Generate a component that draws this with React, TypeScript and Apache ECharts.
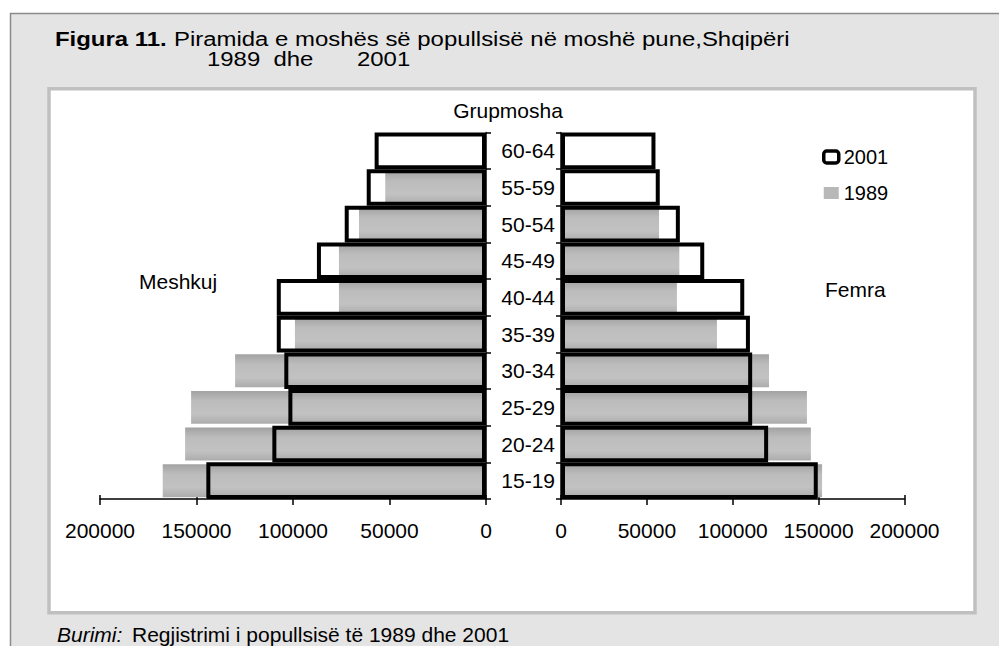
import React, { useEffect, useRef } from "react";
import * as echarts from "echarts";

// ---- data ----
const ageGroups = ["15-19", "20-24", "25-29", "30-34", "35-39", "40-44", "45-49", "50-54", "55-59", "60-64"];
const male2001 = [144900, 110700, 102400, 104500, 108400, 108400, 87600, 73200, 61800, 57700];
const male1989 = [167500, 155900, 152800, 130000, 99000, 76200, 76200, 65800, 52200, null];
const female2001 = [149500, 120600, 111300, 111300, 110000, 106700, 83400, 69200, 57500, 55000];
const female1989 = [152000, 145500, 143200, 121100, 90800, 67500, 68900, 57100, null, null];
const xTickValues = [0, 50000, 100000, 150000, 200000];
const seriesNames = ["2001", "1989"];

const FONT = "'Liberation Sans', Arial, Helvetica, sans-serif";

export default function App() {
  const ref = useRef<HTMLDivElement>(null);

  useEffect(() => {
    if (!ref.current) return;
    const chart = echarts.init(ref.current, null, { renderer: "svg" });

    const xMin = xTickValues[0];
    const xMax = xTickValues[xTickValues.length - 1];
    const xInt = xTickValues[1] - xTickValues[0];

    const grey = new echarts.graphic.LinearGradient(0, 0, 0, 1, [
      { offset: 0, color: "#a2a2a2" },
      { offset: 0.3, color: "#bcbcbc" },
      { offset: 0.7, color: "#c2c2c2" },
      { offset: 1, color: "#acacac" },
    ]);

    const mainX = (grid: number, inverse: boolean) => ({
      type: "value",
      gridIndex: grid,
      inverse,
      min: xMin,
      max: xMax,
      interval: xInt,
      position: "bottom",
      splitLine: { show: false },
      axisLine: { show: true, lineStyle: { color: "#000", width: 1.5 } },
      axisTick: { show: true, inside: false, length: 6, lineStyle: { color: "#000", width: 1.5 } },
      axisLabel: {
        show: true,
        margin: 21,
        color: "#000",
        fontSize: 21,
        fontFamily: FONT,
        formatter: (v: number) => String(v),
      },
    });
    const innerTickX = (grid: number, inverse: boolean) => ({
      type: "value",
      gridIndex: grid,
      inverse,
      min: xMin,
      max: xMax,
      interval: xInt,
      position: "bottom",
      offset: 0,
      splitLine: { show: false },
      axisLine: { show: false },
      axisTick: { show: true, inside: true, length: 4, lineStyle: { color: "#000", width: 1.5 } },
      axisLabel: { show: false },
    });

    const visibleY = (grid: number, position: string, showLabels: boolean) => ({
      type: "category",
      gridIndex: grid,
      data: ageGroups,
      position,
      axisLine: { show: true, lineStyle: { color: "#000", width: 1.5 } },
      axisTick: { show: true, inside: false, length: 5, lineStyle: { color: "#000", width: 1.5 } },
      axisLabel: {
        show: showLabels,
        margin: 6,
        color: "#000",
        fontSize: 21,
        fontFamily: FONT,
      },
      splitLine: { show: false },
    });
    const hiddenY = (grid: number) => ({
      type: "category",
      gridIndex: grid,
      data: ageGroups,
      show: false,
    });

    const fill2001 = (name: string, data: (number | null)[], xi: number, yi: number) => ({
      name,
      type: "bar",
      xAxisIndex: xi,
      yAxisIndex: yi,
      data,
      barCategoryGap: "0%",
      barGap: "-100%",
      z: 2,
      itemStyle: { color: "#ffffff", borderWidth: 0 },
      emphasis: { disabled: true },
    });
    const outline2001 = (name: string, data: (number | null)[], xi: number, yi: number) => ({
      name,
      type: "bar",
      xAxisIndex: xi,
      yAxisIndex: yi,
      data,
      barCategoryGap: "0%",
      barGap: "-100%",
      z: 4,
      itemStyle: { color: "rgba(0,0,0,0)", borderColor: "#000", borderWidth: 4 },
      emphasis: { disabled: true },
    });
    const bars1989 = (name: string, data: (number | null)[], xi: number, yi: number) => ({
      name,
      type: "bar",
      xAxisIndex: xi,
      yAxisIndex: yi,
      data,
      barCategoryGap: "10%",
      z: 3,
      itemStyle: { color: grey },
      emphasis: { disabled: true },
    });

    const option: any = {
      animation: false,
      backgroundColor: "#ffffff",
      textStyle: { fontFamily: FONT, color: "#000" },
      graphic: [
        {
          type: "rect",
          z: -10,
          silent: true,
          shape: { x: 10.5, y: 13.5, width: 1000, height: 700 },
          style: { fill: "#e4e4e4", stroke: "#8a8a8a", lineWidth: 1.5 },
        },
        {
          type: "rect",
          z: -9,
          silent: true,
          shape: { x: 49, y: 88.8, width: 926, height: 524 },
          style: { fill: "#ffffff", stroke: "#c0c0c0", lineWidth: 3.5 },
        },
        {
          type: "text",
          x: 55,
          y: 39.5,
          scaleX: 1.14,
          style: {
            text: "Figura 11.",
            fill: "#000",
            font: `bold 21px ${FONT}`,
            textAlign: "left",
            textVerticalAlign: "middle",
          },
        },
        {
          type: "text",
          x: 174,
          y: 39.5,
          scaleX: 1.14,
          style: {
            text: "Piramida e moshës së popullsisë në moshë pune,Shqipëri",
            fill: "#000",
            font: `21px ${FONT}`,
            textAlign: "left",
            textVerticalAlign: "middle",
          },
        },
        {
          type: "text",
          x: 207,
          y: 59.5,
          scaleX: 1.14,
          style: {
            text: "1989  dhe",
            fill: "#000",
            font: `21px ${FONT}`,
            textAlign: "left",
            textVerticalAlign: "middle",
          },
        },
        {
          type: "text",
          x: 357,
          y: 59.5,
          scaleX: 1.14,
          style: {
            text: "2001",
            fill: "#000",
            font: `21px ${FONT}`,
            textAlign: "left",
            textVerticalAlign: "middle",
          },
        },
        {
          type: "text",
          x: 508,
          y: 110,
          style: {
            text: "Grupmosha",
            fill: "#000",
            font: `21px ${FONT}`,
            textAlign: "center",
            textVerticalAlign: "middle",
          },
        },
        {
          type: "text",
          x: 139,
          y: 281.5,
          style: {
            text: "Meshkuj",
            fill: "#000",
            font: `21px ${FONT}`,
            textAlign: "left",
            textVerticalAlign: "middle",
          },
        },
        {
          type: "text",
          x: 825,
          y: 289.7,
          style: {
            text: "Femra",
            fill: "#000",
            font: `21px ${FONT}`,
            textAlign: "left",
            textVerticalAlign: "middle",
          },
        },
        {
          type: "text",
          x: 57,
          y: 634,
          style: {
            text: "Burimi:",
            fill: "#000",
            font: `italic 21px ${FONT}`,
            textAlign: "left",
            textVerticalAlign: "middle",
          },
        },
        {
          type: "text",
          x: 132,
          y: 634,
          style: {
            text: "Regjistrimi i popullsisë të 1989 dhe 2001",
            fill: "#000",
            font: `21px ${FONT}`,
            textAlign: "left",
            textVerticalAlign: "middle",
          },
        },
      ],
      legend: {
        orient: "vertical",
        left: 817,
        top: 142,
        itemWidth: 15,
        itemHeight: 12,
        itemGap: 16,
        selectedMode: false,
        textStyle: { fontSize: 20, fontFamily: FONT, color: "#000" },
        data: [
          {
            name: seriesNames[0],
            icon: "roundRect",
            itemStyle: { color: "#ffffff", borderColor: "#000", borderWidth: 3.5 },
          },
          {
            name: seriesNames[1],
            icon: "rect",
            itemStyle: { color: "#b8b8b8", borderWidth: 0 },
          },
        ],
      },
      grid: [
        { left: 100, width: 386, top: 132.5, height: 366.5 },
        { left: 561, width: 343.5, top: 132.5, height: 366.5 },
      ],
      xAxis: [mainX(0, true), innerTickX(0, true), mainX(1, false), innerTickX(1, false)],
      yAxis: [visibleY(0, "right", false), hiddenY(0), visibleY(1, "left", true), hiddenY(1)],
      series: [
        fill2001(seriesNames[0], male2001, 0, 0),
        bars1989(seriesNames[1], male1989, 0, 1),
        outline2001(seriesNames[0], male2001, 0, 0),
        fill2001(seriesNames[0], female2001, 2, 2),
        bars1989(seriesNames[1], female1989, 2, 3),
        outline2001(seriesNames[0], female2001, 2, 2),
      ],
    };

    chart.setOption(option);
    return () => chart.dispose();
  }, []);

  return (
    <div
      ref={ref}
      style={{ position: "fixed", left: 0, top: 0, width: 999, height: 646 }}
    />
  );
}
